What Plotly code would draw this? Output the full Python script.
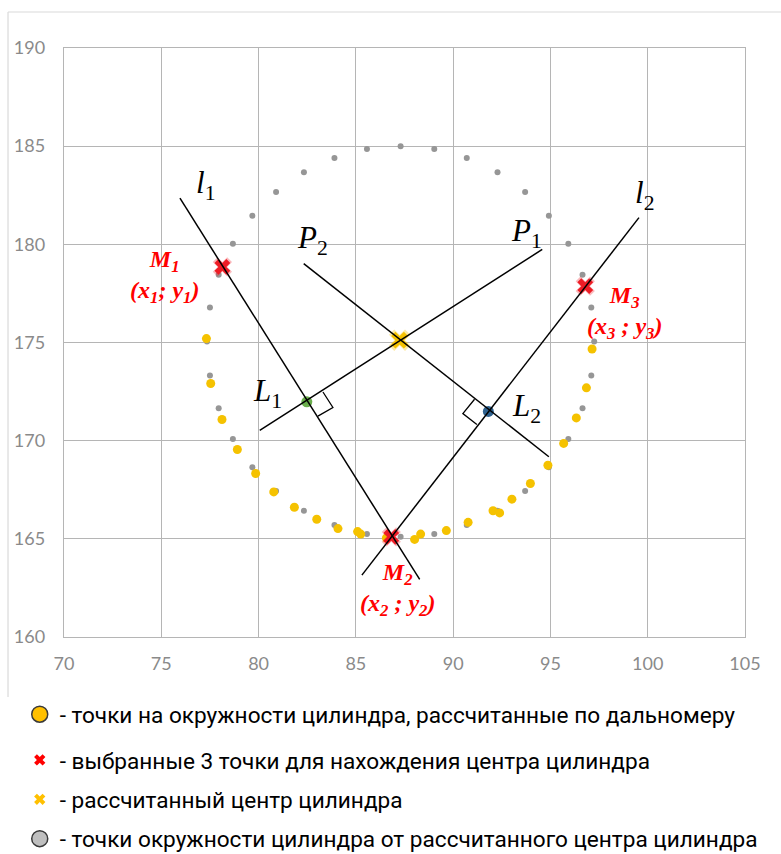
import plotly.graph_objects as go

# Measured points on the cylinder surface (range finder)
meas_x = [77.32, 77.54, 78.12, 78.91, 79.85, 80.78, 81.84, 82.99, 84.08, 85.09, 85.25,
          86.57, 88.02, 88.33, 89.65, 90.77, 92.05, 92.39, 93.02, 93.97, 94.87, 95.68,
          96.33, 96.85, 97.14]
meas_y = [175.20, 172.91, 171.08, 169.55, 168.33, 167.39, 166.61, 166.00, 165.52, 165.37, 165.24,
          165.04, 164.97, 165.24, 165.42, 165.84, 166.43, 166.32, 167.02, 167.82, 168.75, 169.86,
          171.16, 172.69, 174.67]

# Circle points around the computed centre
circ_x = [97.25, 97.10, 96.65, 95.92, 94.92, 93.70, 92.28, 90.70, 89.03, 87.30, 85.57, 83.90,
          82.33, 80.90, 79.68, 78.68, 77.95, 77.50, 77.35, 77.50, 77.95, 78.68, 79.68, 80.90,
          82.33, 83.90, 85.57, 87.30, 89.03, 90.70, 92.28, 93.70, 94.92, 95.92, 96.65, 97.10]
circ_y = [175.05, 176.78, 178.45, 180.03, 181.45, 182.67, 183.67, 184.40, 184.85, 185.00, 184.85,
          184.40, 183.67, 182.67, 181.45, 180.03, 178.45, 176.78, 175.05, 173.32, 171.65, 170.08,
          168.65, 167.43, 166.43, 165.70, 165.25, 165.10, 165.25, 165.70, 166.43, 167.43, 168.65,
          170.08, 171.65, 173.32]

# Three selected points M1, M2, M3
sel_x = [78.14, 86.82, 96.79]
sel_y = [178.85, 165.10, 177.87]

# Computed centre
center_x = [87.25]
center_y = [175.12]

# Midpoints L1 and L2
l1_mid = (82.48, 171.98)
l2_mid = (91.81, 171.49)

# Construction lines (start, end)
seg_l1 = ([75.96, 88.28], [182.35, 162.93])
seg_l2 = ([99.55, 85.31], [181.36, 163.15])
seg_p1 = ([80.06, 94.58], [170.53, 179.74])
seg_p2 = ([82.32, 94.92], [179.02, 169.18])
# Right-angle marks
mark_l1 = ([83.31, 83.82, 83.05], [172.48, 171.69, 171.25])
mark_l2 = ([91.10, 90.50, 91.22], [172.11, 171.38, 170.82])

x_ticks = [70, 75, 80, 85, 90, 95, 100, 105]
y_ticks = [160, 165, 170, 175, 180, 185, 190]

legend_texts = [
    "- точки на окружности цилиндра, рассчитанные по дальномеру",
    "- выбранные 3 точки для нахождения центра цилиндра",
    "- рассчитанный центр цилиндра",
    "- точки окружности цилиндра от рассчитанного центра цилиндра",
]

YELLOW = "#F5C200"
RED = "#EE1C25"
GRAY = "#969696"
LEG_FONT = "Roboto"

fig = go.Figure()

def add_line(seg, width=1.5):
    fig.add_trace(go.Scatter(x=seg[0], y=seg[1], mode="lines",
                             line=dict(color="black", width=width),
                             showlegend=False, hoverinfo="skip"))

# circle of computed centre
fig.add_trace(go.Scatter(x=circ_x, y=circ_y, mode="markers",
                         marker=dict(size=6, color=GRAY), showlegend=False))
# measured points
fig.add_trace(go.Scatter(x=meas_x, y=meas_y, mode="markers",
                         marker=dict(size=9, color=YELLOW), showlegend=False))

# soft halos under the key points
fig.add_trace(go.Scatter(x=sel_x, y=sel_y, mode="markers",
                         marker=dict(size=17, symbol="x", color=RED, opacity=0.3),
                         showlegend=False, hoverinfo="skip"))
fig.add_trace(go.Scatter(x=center_x, y=center_y, mode="markers",
                         marker=dict(size=19, symbol="x", color=YELLOW, opacity=0.35),
                         showlegend=False, hoverinfo="skip"))
fig.add_trace(go.Scatter(x=sel_x, y=sel_y, mode="markers",
                         marker=dict(size=14, symbol="x", color=RED), showlegend=False))
fig.add_trace(go.Scatter(x=center_x, y=center_y, mode="markers",
                         marker=dict(size=15, symbol="x", color=YELLOW), showlegend=False))
fig.add_trace(go.Scatter(x=[l1_mid[0]], y=[l1_mid[1]], mode="markers",
                         marker=dict(size=11, color="#6AAE4C"), showlegend=False))
fig.add_trace(go.Scatter(x=[l2_mid[0]], y=[l2_mid[1]], mode="markers",
                         marker=dict(size=11, color="#2F628F"), showlegend=False))

for seg in (seg_l1, seg_l2, seg_p1, seg_p2):
    add_line(seg)
add_line(mark_l1, 1.3)
add_line(mark_l2, 1.3)

# legend entries
leg_markers = [
    dict(symbol="circle", size=16, color="#FFC000", line=dict(color="#3a3a3a", width=1.5)),
    dict(symbol="x", size=10, color="#FF0000", line=dict(width=0)),
    dict(symbol="x", size=10, color="#FFC000", line=dict(width=0)),
    dict(symbol="circle", size=16, color="#BFBFBF", line=dict(color="#3a3a3a", width=1.5)),
]
for i, (txt, mk) in enumerate(zip(legend_texts, leg_markers)):
    fig.add_trace(go.Scatter(x=[None], y=[None], mode="markers", marker=mk, name=txt,
                             legend="legend" if i == 0 else "legend2",
                             legendgroup=f"g{i}", showlegend=True))

label_font = dict(family="Liberation Serif", size=31, color="black")
red_font = dict(family="Liberation Serif", size=24, color="#FF0000")

labels = [
    (77.25, 183.01, "<i>l</i><sub>1</sub>"),
    (99.84, 182.50, "<i>l</i><sub>2</sub>"),
    (82.78, 180.21, "<i>P</i><sub>2</sub>"),
    (93.76, 180.57, "<i>P</i><sub>1</sub>"),
    (80.48, 172.42, "<i>L</i><sub>1</sub>"),
    (93.76, 171.64, "<i>L</i><sub>2</sub>"),
]
for x, y, t in labels:
    fig.add_annotation(x=x, y=y, text=t, showarrow=False, font=label_font)

red_labels = [
    (75.14, 178.38, "<b><i>M<sub>1</sub><br>(x<sub>1</sub>; y<sub>1</sub>)</i></b>"),
    (87.15, 162.44, "<b><i>M<sub>2</sub><br>(x<sub>2</sub> ; y<sub>2</sub>)</i></b>"),
    (98.81, 176.54, "<b><i>M<sub>3</sub><br>(x<sub>3</sub> ; y<sub>3</sub>)</i></b>"),
]
for x, y, t in red_labels:
    fig.add_annotation(x=x, y=y, text=t, showarrow=False, font=red_font)

# chart-area frame lines
frame = "#dadada"
fig.add_shape(type="line", xref="paper", yref="paper", x0=-0.0822, x1=1.06,
              y0=1.0611, y1=1.0611, line=dict(color=frame, width=1.2))
fig.add_shape(type="line", xref="paper", yref="paper", x0=-0.0822, x1=-0.0822,
              y0=1.0611, y1=-0.102, line=dict(color=frame, width=1.2))

axis_common = dict(showgrid=True, gridcolor="#b5b5b5", gridwidth=1.4,
                   showline=True, linecolor="#b5b5b5", linewidth=1.4, mirror=True,
                   zeroline=False, ticks="",
                   tickfont=dict(family="Lato", size=18, color="#8a8a8a"))

fig.update_layout(
    width=781, height=854,
    margin=dict(l=64, r=36, t=48, b=217, autoexpand=False),
    plot_bgcolor="white", paper_bgcolor="white",
    xaxis=dict(range=[70, 105], tickvals=x_ticks, ticklabelstandoff=10, **axis_common),
    yaxis=dict(range=[160, 190], tickvals=y_ticks, ticklabelstandoff=14, **axis_common),
    legend=dict(x=-0.065, y=-0.0951, xanchor="left", yanchor="top",
                font=dict(family=LEG_FONT, size=22.6, color="black"),
                bgcolor="rgba(0,0,0,0)", itemsizing="trace"),
    legend2=dict(x=-0.065, y=-0.1727, xanchor="left", yanchor="top",
                 font=dict(family=LEG_FONT, size=22.6, color="black"),
                 bgcolor="rgba(0,0,0,0)", itemsizing="trace", tracegroupgap=7),
    showlegend=True,
)

fig.write_html("out.html")
